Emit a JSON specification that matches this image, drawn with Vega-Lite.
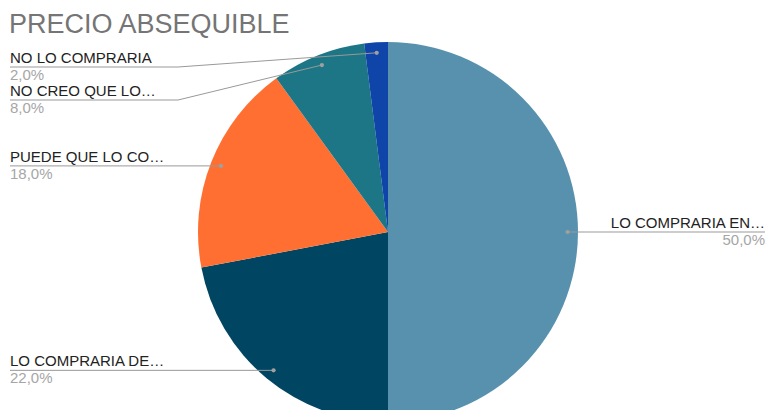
{
  "$schema": "https://vega.github.io/schema/vega-lite/v6.json",
  "width": 758,
  "height": 356,
  "padding": {"left": 9, "top": 54, "right": 0, "bottom": 0},
  "autosize": {"type": "none"},
  "background": "white",
  "config": {"view": {"stroke": null}, "font": "Liberation Sans"},
  "title": {
    "text": "PRECIO ABSEQUIBLE",
    "anchor": "start",
    "frame": "group",
    "font": "Liberation Sans",
    "fontSize": 27,
    "fontWeight": "normal",
    "color": "#757575",
    "offset": 3
  },
  "data": {
    "values": [
      {"category": "LO COMPRARIA EN…", "value": 50, "order": 1},
      {"category": "LO COMPRARIA DE…", "value": 22, "order": 2},
      {"category": "PUEDE QUE LO CO…", "value": 18, "order": 3},
      {"category": "NO CREO QUE LO…", "value": 8, "order": 4},
      {"category": "NO LO COMPRARIA", "value": 2, "order": 5}
    ]
  },
  "transform": [
    {"window": [{"op": "sum", "field": "value", "as": "cum"}], "sort": [{"field": "order"}], "frame": [null, 0]},
    {"calculate": "(datum.cum - datum.value/2)/100*2*PI", "as": "mid"},
    {"calculate": "0.945*190*sin(datum.mid)", "as": "dotX"},
    {"calculate": "-0.945*190*cos(datum.mid)", "as": "dotY"},
    {"calculate": "datum.dotX < 0 ? 'left' : 'right'", "as": "side"},
    {"window": [{"op": "row_number", "as": "rank"}], "groupby": ["side"], "sort": [{"field": "dotY"}]},
    {"calculate": "datum.dotY - 33*(datum.rank-1)", "as": "k"},
    {"window": [{"op": "max", "field": "k", "as": "kmax"}], "groupby": ["side"], "sort": [{"field": "dotY"}], "frame": [null, 0]},
    {"calculate": "max(datum.kmax, -165) + 33*(datum.rank-1)", "as": "labelY"},
    {"calculate": "datum.side == 'left' ? -378 : 377", "as": "edgeX"},
    {"calculate": "datum.side == 'left' ? -210 : 212", "as": "elbowX"},
    {"calculate": "replace(format(datum.value, '.1f'), '.', ',') + '%'", "as": "pct"}
  ],
  "layer": [
    {
      "mark": {"type": "arc", "radius": 190, "stroke": null},
      "encoding": {
        "theta": {"field": "value", "type": "quantitative", "stack": true},
        "order": {"field": "order", "type": "quantitative"},
        "color": {
          "field": "category",
          "type": "nominal",
          "scale": {
            "domain": ["LO COMPRARIA EN…", "LO COMPRARIA DE…", "PUEDE QUE LO CO…", "NO CREO QUE LO…", "NO LO COMPRARIA"],
            "range": ["#5891AD", "#004561", "#FF6F31", "#1C7685", "#0F45A8"]
          },
          "legend": null
        }
      }
    },
    {
      "mark": {"type": "rule", "color": "#999999", "strokeWidth": 1},
      "encoding": {
        "x": {"field": "edgeX", "type": "quantitative", "scale": {"domain": [-379, 379], "zero": false, "nice": false}, "axis": null},
        "x2": {"field": "elbowX"},
        "y": {"field": "labelY", "type": "quantitative", "scale": {"domain": [-178, 178], "zero": false, "nice": false, "reverse": true}, "axis": null},
        "y2": {"field": "labelY"}
      }
    },
    {
      "mark": {"type": "rule", "color": "#999999", "strokeWidth": 1},
      "encoding": {
        "x": {"field": "elbowX", "type": "quantitative"},
        "x2": {"field": "dotX"},
        "y": {"field": "labelY", "type": "quantitative"},
        "y2": {"field": "dotY"}
      }
    },
    {
      "mark": {"type": "point", "filled": true, "size": 18, "color": "#a0a0a0", "opacity": 1},
      "encoding": {
        "x": {"field": "dotX", "type": "quantitative"},
        "y": {"field": "dotY", "type": "quantitative"}
      }
    },
    {
      "transform": [{"filter": "datum.side == 'left'"}],
      "mark": {"type": "text", "align": "left", "baseline": "alphabetic", "dy": -4, "fontSize": 15, "color": "#222222"},
      "encoding": {
        "x": {"field": "edgeX", "type": "quantitative"},
        "y": {"field": "labelY", "type": "quantitative"},
        "text": {"field": "category"}
      }
    },
    {
      "transform": [{"filter": "datum.side == 'left'"}],
      "mark": {"type": "text", "align": "left", "baseline": "alphabetic", "dy": 13, "fontSize": 15, "color": "#a6a6a6"},
      "encoding": {
        "x": {"field": "edgeX", "type": "quantitative"},
        "y": {"field": "labelY", "type": "quantitative"},
        "text": {"field": "pct"}
      }
    },
    {
      "transform": [{"filter": "datum.side == 'right'"}],
      "mark": {"type": "text", "align": "right", "baseline": "alphabetic", "dy": -4, "fontSize": 15, "color": "#222222"},
      "encoding": {
        "x": {"field": "edgeX", "type": "quantitative"},
        "y": {"field": "labelY", "type": "quantitative"},
        "text": {"field": "category"}
      }
    },
    {
      "transform": [{"filter": "datum.side == 'right'"}],
      "mark": {"type": "text", "align": "right", "baseline": "alphabetic", "dy": 13, "fontSize": 15, "color": "#a6a6a6"},
      "encoding": {
        "x": {"field": "edgeX", "type": "quantitative"},
        "y": {"field": "labelY", "type": "quantitative"},
        "text": {"field": "pct"}
      }
    }
  ]
}
